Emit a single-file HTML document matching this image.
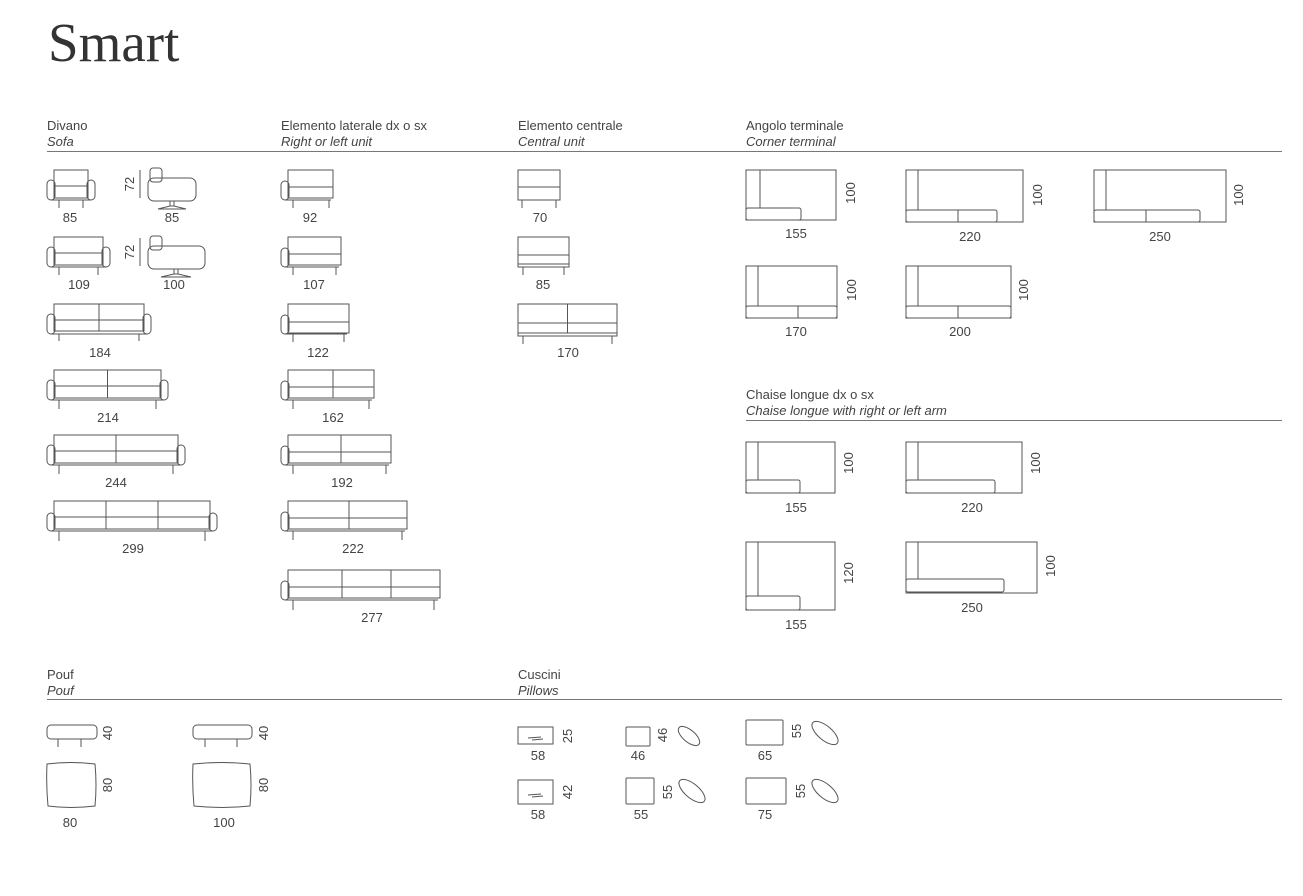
<!DOCTYPE html>
<html><head><meta charset="utf-8"><style>
html,body{margin:0;padding:0;background:#fff;}
svg{display:block;}
text{font-family:"Liberation Sans",sans-serif;font-size:13px;fill:#444;}
.i{font-style:italic;}
.c{text-anchor:middle;}
g.s rect,g.s path,g.s line,g.s ellipse{fill:none;stroke:#555;stroke-width:1;}
</style></head><body>
<svg width="1303" height="896" viewBox="0 0 1303 896" xmlns="http://www.w3.org/2000/svg">
<text x="48" y="61" style="font-family:'Liberation Serif',serif;font-size:55px;fill:#333">Smart</text>

<!-- headers -->
<text x="47" y="130">Divano</text><text x="47" y="146" class="i">Sofa</text>
<text x="281" y="130">Elemento laterale dx o sx</text><text x="281" y="146" class="i">Right or left unit</text>
<text x="518" y="130">Elemento centrale</text><text x="518" y="146" class="i">Central unit</text>
<text x="746" y="130">Angolo terminale</text><text x="746" y="146" class="i">Corner terminal</text>
<line x1="47" y1="151.5" x2="1282" y2="151.5" stroke="#777"/>
<text x="746" y="399">Chaise longue dx o sx</text><text x="746" y="415" class="i">Chaise longue with right or left arm</text>
<line x1="746" y1="420.5" x2="1282" y2="420.5" stroke="#777"/>
<text x="47" y="679">Pouf</text><text x="47" y="695" class="i">Pouf</text>
<text x="518" y="679">Cuscini</text><text x="518" y="695" class="i">Pillows</text>
<line x1="47" y1="699.5" x2="1282" y2="699.5" stroke="#777"/>

<g class="s">
<!-- Divano front views -->
<g transform="translate(47,170)"><rect x="7" y="0" width="34" height="28"/><line x1="7" y1="16" x2="41" y2="16"/><rect x="0" y="10" width="8" height="20" rx="4"/><rect x="40" y="10" width="8" height="20" rx="4"/><line x1="4" y1="30" x2="44" y2="30"/><line x1="12" y1="30" x2="12" y2="38"/><line x1="36" y1="30" x2="36" y2="38"/></g>
<g transform="translate(47,237)"><rect x="7" y="0" width="49" height="28"/><line x1="7" y1="16" x2="56" y2="16"/><rect x="0" y="10" width="8" height="20" rx="4"/><rect x="55" y="10" width="8" height="20" rx="4"/><line x1="4" y1="30" x2="59" y2="30"/><line x1="12" y1="30" x2="12" y2="38"/><line x1="51" y1="30" x2="51" y2="38"/></g>
<g transform="translate(47,304)"><rect x="7" y="0" width="90" height="27"/><line x1="7" y1="16" x2="97" y2="16"/><line x1="52" y1="0" x2="52" y2="27"/><rect x="0" y="10" width="8" height="20" rx="4"/><rect x="96" y="10" width="8" height="20" rx="4"/><line x1="4" y1="30" x2="100" y2="30"/><line x1="12" y1="30" x2="12" y2="37"/><line x1="92" y1="30" x2="92" y2="37"/></g>
<g transform="translate(47,370)"><rect x="7" y="0" width="107" height="28"/><line x1="7" y1="16" x2="114" y2="16"/><line x1="60.5" y1="0" x2="60.5" y2="28"/><rect x="0" y="10" width="8" height="20" rx="4"/><rect x="113" y="10" width="8" height="20" rx="4"/><line x1="4" y1="30" x2="117" y2="30"/><line x1="12" y1="30" x2="12" y2="39"/><line x1="109" y1="30" x2="109" y2="39"/></g>
<g transform="translate(47,435)"><rect x="7" y="0" width="124" height="28"/><line x1="7" y1="16" x2="131" y2="16"/><line x1="69" y1="0" x2="69" y2="28"/><rect x="0" y="10" width="8" height="20" rx="4"/><rect x="130" y="10" width="8" height="20" rx="4"/><line x1="4" y1="30" x2="134" y2="30"/><line x1="12" y1="30" x2="12" y2="39"/><line x1="126" y1="30" x2="126" y2="39"/></g>
<g transform="translate(47,501)"><rect x="7" y="0" width="156" height="28"/><line x1="7" y1="16" x2="163" y2="16"/><line x1="59" y1="0" x2="59" y2="28"/><line x1="111" y1="0" x2="111" y2="28"/><rect x="0" y="12" width="8" height="18" rx="4"/><rect x="162" y="12" width="8" height="18" rx="4"/><line x1="4" y1="30" x2="166" y2="30"/><line x1="12" y1="30" x2="12" y2="40"/><line x1="158" y1="30" x2="158" y2="40"/></g>
<!-- side view chairs -->
<g transform="translate(148,168)"><rect x="2" y="0" width="12" height="14" rx="3"/><rect x="0" y="10" width="48" height="23" rx="6"/><line x1="22" y1="33" x2="22" y2="38"/><line x1="26" y1="33" x2="26" y2="38"/><path d="M10 41 L22 38 L26 38 L38 41 Z"/></g>
<line x1="140" y1="170" x2="140" y2="198"/>
<g transform="translate(148,236)"><rect x="2" y="0" width="12" height="14" rx="3"/><rect x="0" y="10" width="57" height="23" rx="6"/><line x1="26" y1="33" x2="26" y2="38"/><line x1="30" y1="33" x2="30" y2="38"/><path d="M13 41 L26 38 L30 38 L43 41 Z"/></g>
<line x1="140" y1="238" x2="140" y2="266"/>

<!-- Side units (left arm) -->
<g transform="translate(281,170)"><rect x="7" y="0" width="45" height="28"/><line x1="7" y1="17" x2="52" y2="17"/><rect x="0" y="11" width="8" height="19" rx="4"/><line x1="4" y1="30" x2="50" y2="30"/><line x1="12" y1="30" x2="12" y2="38"/><line x1="48" y1="30" x2="48" y2="38"/></g>
<g transform="translate(281,237)"><rect x="7" y="0" width="53" height="28"/><line x1="7" y1="17" x2="60" y2="17"/><rect x="0" y="11" width="8" height="19" rx="4"/><line x1="4" y1="30" x2="58" y2="30"/><line x1="12" y1="30" x2="12" y2="38"/><line x1="55" y1="30" x2="55" y2="38"/></g>
<g transform="translate(281,304)"><rect x="7" y="0" width="61" height="29"/><line x1="7" y1="18" x2="68" y2="18"/><rect x="0" y="11" width="8" height="19" rx="4"/><line x1="4" y1="30" x2="66" y2="30"/><line x1="12" y1="30" x2="12" y2="38"/><line x1="63" y1="30" x2="63" y2="38"/></g>
<g transform="translate(281,370)"><rect x="7" y="0" width="86" height="28"/><line x1="7" y1="17" x2="93" y2="17"/><line x1="52" y1="0" x2="52" y2="28"/><rect x="0" y="11" width="8" height="19" rx="4"/><line x1="4" y1="30" x2="91" y2="30"/><line x1="12" y1="30" x2="12" y2="39"/><line x1="88" y1="30" x2="88" y2="39"/></g>
<g transform="translate(281,435)"><rect x="7" y="0" width="103" height="28"/><line x1="7" y1="17" x2="110" y2="17"/><line x1="60" y1="0" x2="60" y2="28"/><rect x="0" y="11" width="8" height="19" rx="4"/><line x1="4" y1="30" x2="108" y2="30"/><line x1="12" y1="30" x2="12" y2="39"/><line x1="105" y1="30" x2="105" y2="39"/></g>
<g transform="translate(281,501)"><rect x="7" y="0" width="119" height="28"/><line x1="7" y1="17" x2="126" y2="17"/><line x1="68" y1="0" x2="68" y2="28"/><rect x="0" y="11" width="8" height="19" rx="4"/><line x1="4" y1="30" x2="124" y2="30"/><line x1="12" y1="30" x2="12" y2="39"/><line x1="121" y1="30" x2="121" y2="39"/></g>
<g transform="translate(281,570)"><rect x="7" y="0" width="152" height="28"/><line x1="7" y1="17" x2="159" y2="17"/><line x1="61" y1="0" x2="61" y2="28"/><line x1="110" y1="0" x2="110" y2="28"/><rect x="0" y="11" width="8" height="19" rx="4"/><line x1="4" y1="30" x2="157" y2="30"/><line x1="12" y1="30" x2="12" y2="40"/><line x1="153" y1="30" x2="153" y2="40"/></g>

<!-- Central units -->
<g transform="translate(518,170)"><rect x="0" y="0" width="42" height="30"/><line x1="0" y1="17" x2="42" y2="17"/><line x1="4" y1="30" x2="4" y2="38"/><line x1="38" y1="30" x2="38" y2="38"/></g>
<g transform="translate(518,237)"><rect x="0" y="0" width="51" height="30"/><line x1="0" y1="18" x2="51" y2="18"/><line x1="0" y1="27" x2="51" y2="27"/><line x1="5" y1="30" x2="5" y2="38"/><line x1="46" y1="30" x2="46" y2="38"/></g>
<g transform="translate(518,304)"><rect x="0" y="0" width="99" height="32"/><line x1="0" y1="19" x2="99" y2="19"/><line x1="0" y1="29" x2="99" y2="29"/><line x1="49.5" y1="0" x2="49.5" y2="29"/><line x1="5" y1="32" x2="5" y2="40"/><line x1="94" y1="32" x2="94" y2="40"/></g>

<!-- Corner terminal -->
<g transform="translate(746,170)"><rect x="0" y="0" width="90" height="50"/><line x1="14" y1="0" x2="14" y2="38"/><rect x="0" y="38" width="55" height="12" rx="2"/></g>
<g transform="translate(906,170)"><rect x="0" y="0" width="117" height="52"/><line x1="12" y1="0" x2="12" y2="40"/><rect x="0" y="40" width="91" height="12" rx="2"/><line x1="52" y1="40" x2="52" y2="52"/></g>
<g transform="translate(1094,170)"><rect x="0" y="0" width="132" height="52"/><line x1="12" y1="0" x2="12" y2="40"/><rect x="0" y="40" width="106" height="12" rx="2"/><line x1="52" y1="40" x2="52" y2="52"/></g>
<g transform="translate(746,266)"><rect x="0" y="0" width="91" height="52"/><line x1="12" y1="0" x2="12" y2="40"/><rect x="0" y="40" width="91" height="12" rx="2"/><line x1="52" y1="40" x2="52" y2="52"/></g>
<g transform="translate(906,266)"><rect x="0" y="0" width="105" height="52"/><line x1="12" y1="0" x2="12" y2="40"/><rect x="0" y="40" width="105" height="12" rx="2"/><line x1="52" y1="40" x2="52" y2="52"/></g>

<!-- Chaise longue -->
<g transform="translate(746,442)"><rect x="0" y="0" width="89" height="51"/><line x1="12" y1="0" x2="12" y2="38"/><rect x="0" y="38" width="54" height="13" rx="2"/></g>
<g transform="translate(906,442)"><rect x="0" y="0" width="116" height="51"/><line x1="12" y1="0" x2="12" y2="38"/><rect x="0" y="38" width="89" height="13" rx="2"/></g>
<g transform="translate(746,542)"><rect x="0" y="0" width="89" height="68"/><line x1="12" y1="0" x2="12" y2="54"/><rect x="0" y="54" width="54" height="14" rx="2"/></g>
<g transform="translate(906,542)"><rect x="0" y="0" width="131" height="51"/><line x1="12" y1="0" x2="12" y2="37"/><rect x="0" y="37" width="98" height="13" rx="2"/></g>

<!-- Pouf -->
<rect x="47" y="725" width="50" height="14" rx="4"/><line x1="58" y1="739" x2="58" y2="747"/><line x1="81" y1="739" x2="81" y2="747"/>
<path d="M47 764 Q71 761 95 764 Q97 785 95 806 Q71 809 48 806 Q46 785 47 764 Z"/>
<rect x="193" y="725" width="59" height="14" rx="4"/><line x1="205" y1="739" x2="205" y2="747"/><line x1="237" y1="739" x2="237" y2="747"/>
<path d="M193 764 Q222 761 250 764 Q252 785 250 806 Q222 809 194 806 Q192 785 193 764 Z"/>

<!-- Pillows -->
<rect x="518" y="727" width="35" height="17"/><path d="M528 738 L541 737 M532 740 L543 739"/>
<rect x="626" y="727" width="24" height="19" rx="1"/>
<ellipse cx="689" cy="736" rx="13" ry="6" transform="rotate(40 689 736)"/>
<rect x="746" y="720" width="37" height="25" rx="1"/>
<ellipse cx="825" cy="733" rx="16" ry="7" transform="rotate(40 825 733)"/>
<rect x="518" y="780" width="35" height="24"/><path d="M528 795 L541 794 M532 797 L543 796"/>
<rect x="626" y="778" width="28" height="26" rx="1"/>
<ellipse cx="692" cy="791" rx="16" ry="7" transform="rotate(40 692 791)"/>
<rect x="746" y="778" width="40" height="26" rx="1"/>
<ellipse cx="825" cy="791" rx="16" ry="7" transform="rotate(40 825 791)"/>
</g>

<!-- labels -->
<g class="c">
<text x="70" y="222">85</text><text x="172" y="222">85</text>
<text x="79" y="289">109</text><text x="174" y="289">100</text>
<text x="100" y="357">184</text><text x="108" y="422">214</text><text x="116" y="487">244</text><text x="133" y="553">299</text>
<text x="310" y="222">92</text><text x="314" y="289">107</text><text x="318" y="357">122</text><text x="333" y="422">162</text><text x="342" y="487">192</text><text x="353" y="553">222</text><text x="372" y="622">277</text>
<text x="540" y="222">70</text><text x="543" y="289">85</text><text x="568" y="357">170</text>
<text x="796" y="238">155</text><text x="970" y="241">220</text><text x="1160" y="241">250</text>
<text x="796" y="336">170</text><text x="960" y="336">200</text>
<text x="796" y="512">155</text><text x="972" y="512">220</text><text x="796" y="629">155</text><text x="972" y="612">250</text>
<text x="70" y="827">80</text><text x="224" y="827">100</text>
<text x="538" y="760">58</text><text x="638" y="760">46</text><text x="765" y="760">65</text>
<text x="538" y="819">58</text><text x="641" y="819">55</text><text x="765" y="819">75</text>
</g>
<!-- rotated dims -->
<g class="c">
<text transform="translate(134,184) rotate(-90)">72</text>
<text transform="translate(134,252) rotate(-90)">72</text>
<text transform="translate(855,193) rotate(-90)">100</text>
<text transform="translate(1042,195) rotate(-90)">100</text>
<text transform="translate(1243,195) rotate(-90)">100</text>
<text transform="translate(856,290) rotate(-90)">100</text>
<text transform="translate(1028,290) rotate(-90)">100</text>
<text transform="translate(853,463) rotate(-90)">100</text>
<text transform="translate(1040,463) rotate(-90)">100</text>
<text transform="translate(853,573) rotate(-90)">120</text>
<text transform="translate(1055,566) rotate(-90)">100</text>
<text transform="translate(112,733) rotate(-90)">40</text>
<text transform="translate(112,785) rotate(-90)">80</text>
<text transform="translate(268,733) rotate(-90)">40</text>
<text transform="translate(268,785) rotate(-90)">80</text>
<text transform="translate(572,736) rotate(-90)">25</text>
<text transform="translate(667,735) rotate(-90)">46</text>
<text transform="translate(801,731) rotate(-90)">55</text>
<text transform="translate(572,792) rotate(-90)">42</text>
<text transform="translate(672,792) rotate(-90)">55</text>
<text transform="translate(805,791) rotate(-90)">55</text>
</g>
</svg>
</body></html>
